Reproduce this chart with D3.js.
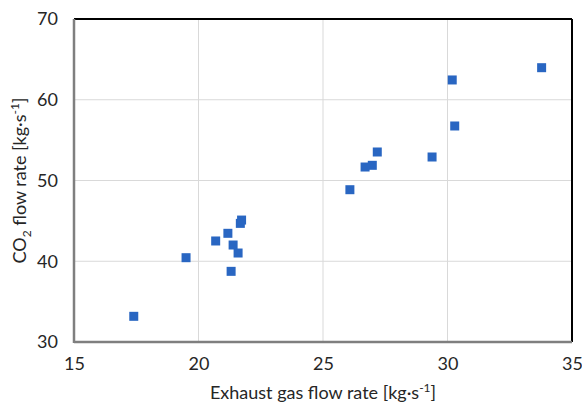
<!DOCTYPE html>
<html><head><meta charset="utf-8">
<script src="https://cdn.jsdelivr.net/npm/d3@7"></script>
<style>body{margin:0;background:#fff;} text{font-family:Lato,"Open Sans",sans-serif;fill:#262626;}</style>
</head><body><svg id="c" width="582" height="408"></svg>
<script>
const xValues = [17.40,19.50,20.69,21.18,21.39,21.59,21.31,21.68,21.73,33.78,30.19,30.29,27.18,29.38,26.98,26.69,26.08];
const yValues = [33.18,40.44,42.51,43.46,42.01,41.02,38.75,44.69,45.10,63.97,62.45,56.75,53.53,52.91,51.88,51.67,48.86];
const xTicks = [15,20,25,30,35];
const yTicks = [30,40,50,60,70];

const svg = d3.select("#c");
const L=74,R=572,T=19,B=342;
const x = d3.scaleLinear().domain([15,35]).range([L,R]);
const y = d3.scaleLinear().domain([30,70]).range([B,T]);

svg.append("g").selectAll("line").data(xTicks.slice(1,-1)).join("line")
  .attr("x1",d=>x(d)).attr("x2",d=>x(d)).attr("y1",T).attr("y2",B)
  .attr("stroke","#d9d9d9").attr("stroke-width",1);
svg.append("g").selectAll("line").data(yTicks.slice(1,-1)).join("line")
  .attr("x1",L).attr("x2",R).attr("y1",d=>y(d)).attr("y2",d=>y(d))
  .attr("stroke","#d9d9d9").attr("stroke-width",1);

// frame
svg.append("line").attr("x1",L).attr("x2",R).attr("y1",T).attr("y2",T).attr("stroke","#000").attr("stroke-width",2);
svg.append("line").attr("x1",R).attr("x2",R).attr("y1",T).attr("y2",B).attr("stroke","#000").attr("stroke-width",2);
svg.append("line").attr("x1",L).attr("x2",L).attr("y1",T).attr("y2",B+1).attr("stroke","#7f7f7f").attr("stroke-width",2.5);
svg.append("line").attr("x1",L).attr("x2",R).attr("y1",B).attr("y2",B).attr("stroke","#7f7f7f").attr("stroke-width",2.5);

const xa = svg.append("g").attr("transform",`translate(0,${B})`)
  .call(d3.axisBottom(x).tickValues(xTicks).tickSize(0).tickPadding(15));
const ya = svg.append("g").attr("transform",`translate(${L},0)`)
  .call(d3.axisLeft(y).tickValues(yTicks).tickSize(0).tickPadding(16));
[xa,ya].forEach(a=>{a.select(".domain").remove(); a.selectAll("text").attr("font-size",18).attr("fill","#262626").style("font-family","Lato,'Open Sans',sans-serif");});

svg.append("g").selectAll("rect").data(xValues.map((v,i)=>[v,yValues[i]])).join("rect")
  .attr("x",d=>x(d[0])-4.5).attr("y",d=>y(d[1])-4.5).attr("width",9).attr("height",9)
  .attr("fill","#2966c2");

const xt = svg.append("text").attr("x",(L+R)/2).attr("y",399).attr("text-anchor","middle").attr("font-size",18);
xt.append("tspan").text("Exhaust gas flow rate [kg·s");
xt.append("tspan").attr("dy",-7).attr("font-size",12).text("-1");
xt.append("tspan").attr("dy",7).text("]");

const yt = svg.append("text").attr("transform",`translate(26,${(T+B)/2}) rotate(-90)`).attr("text-anchor","middle").attr("font-size",18);
yt.append("tspan").text("CO");
yt.append("tspan").attr("dy",5).attr("font-size",12).text("2");
yt.append("tspan").attr("dy",-5).text(" flow rate [kg·s");
yt.append("tspan").attr("dy",-7).attr("font-size",12).text("-1");
yt.append("tspan").attr("dy",7).text("]");
</script></body></html>
